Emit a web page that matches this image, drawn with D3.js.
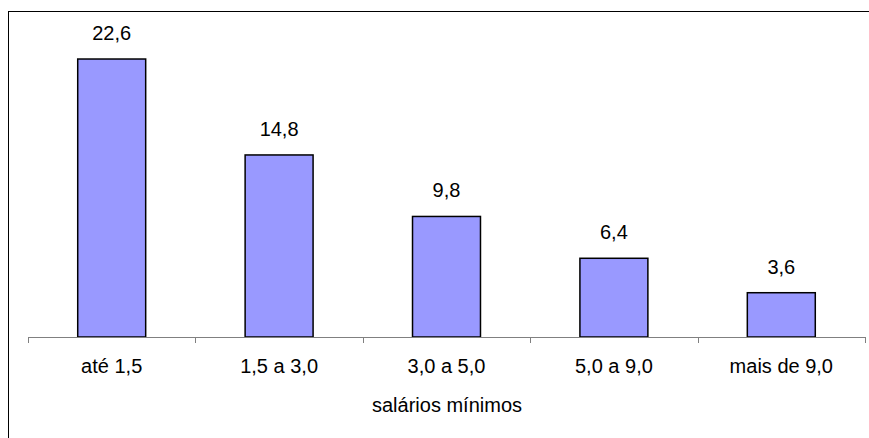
<!doctype html>
<html lang="pt">
<head>
<meta charset="utf-8">
<title>salários mínimos</title>
<script src="https://cdn.jsdelivr.net/npm/d3@7"></script>
<style>
body { margin: 0; background: #fff; overflow: hidden; }
text { font-family: "Liberation Sans", Arial, sans-serif; fill: #000; }
</style>
</head>
<body>
<div id="chart"></div>
<script>
var width = 869;
var height = 438;

// data
var categories = ["até 1,5", "1,5 a 3,0", "3,0 a 5,0", "5,0 a 9,0", "mais de 9,0"];
var values = [22.6, 14.8, 9.8, 6.4, 3.6];
var axisTitle = "salários mínimos";

var svg = d3.select("#chart").append("svg")
    .attr("width", width)
    .attr("height", height)
    .style("display", "block");

// outer frame, runs off the right and bottom edges
svg.append("rect")
    .attr("x", 8.5).attr("y", 11.5)
    .attr("width", width + 10).attr("height", height + 10)
    .attr("fill", "none")
    .attr("stroke", "#000")
    .attr("stroke-width", 1);

var x = d3.scaleBand()
    .domain(categories)
    .range([28, 865])
    .paddingInner(0.594)
    .paddingOuter(0.297);

var y = d3.scaleLinear()
    .domain([0, 25])
    .range([337, 29.5]);

var fmt = function(v) { return d3.format(".1f")(v).replace(".", ","); };

// bars
svg.selectAll("rect.bar")
    .data(values)
    .enter()
    .append("rect")
    .attr("class", "bar")
    .attr("x", function(d, i) { return x(categories[i]); })
    .attr("y", function(d) { return y(d); })
    .attr("width", x.bandwidth())
    .attr("height", function(d) { return y(0) - y(d); })
    .attr("fill", "#9999ff")
    .attr("stroke", "#000")
    .attr("stroke-width", 1.5);

// value labels
svg.selectAll("text.val")
    .data(values)
    .enter()
    .append("text")
    .attr("class", "val")
    .attr("x", function(d, i) { return x(categories[i]) + x.bandwidth() / 2; })
    .attr("y", function(d) { return y(d) - 19; })
    .attr("text-anchor", "middle")
    .style("font-size", "20px")
    .text(fmt);

// x axis: line, ticks between categories
var step = x.step();
var x0 = 28;
var g = svg.append("g").attr("class", "axis");
g.append("line")
    .attr("x1", x0).attr("x2", 865)
    .attr("y1", y(0) + 0.5).attr("y2", y(0) + 0.5)
    .attr("stroke", "#808080");
g.selectAll("line.tick")
    .data(d3.range(categories.length + 1))
    .enter()
    .append("line")
    .attr("class", "tick")
    .attr("x1", function(i) { return Math.round(x0 + i * step) + 0.5; })
    .attr("x2", function(i) { return Math.round(x0 + i * step) + 0.5; })
    .attr("y1", y(0)).attr("y2", y(0) + 6)
    .attr("stroke", "#808080");

g.selectAll("text.cat")
    .data(categories)
    .enter()
    .append("text")
    .attr("class", "cat")
    .attr("x", function(d) { return x(d) + x.bandwidth() / 2; })
    .attr("y", 373)
    .attr("text-anchor", "middle")
    .style("font-size", "20px")
    .text(function(d) { return d; });

svg.append("text")
    .attr("x", 447)
    .attr("y", 412)
    .attr("text-anchor", "middle")
    .style("font-size", "20px")
    .text(axisTitle);
</script>
</body>
</html>
